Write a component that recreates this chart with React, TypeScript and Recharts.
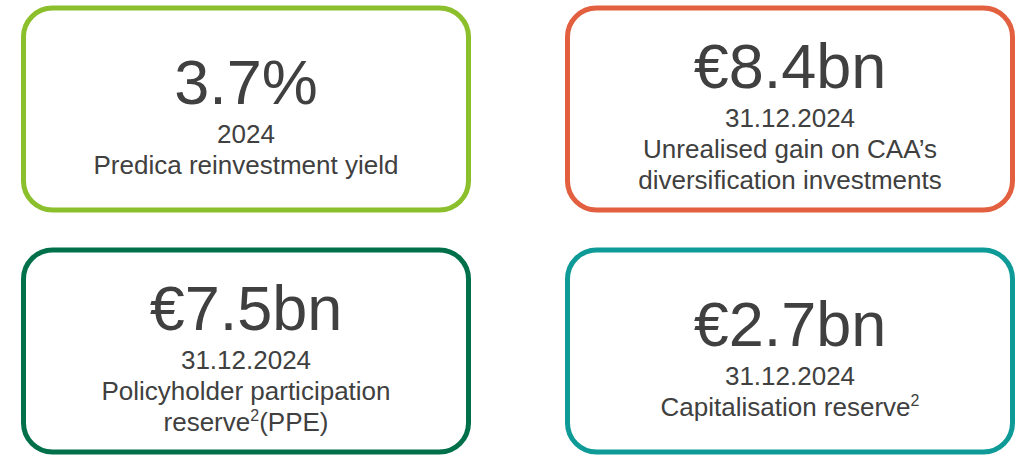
import React from 'react';
import { ScatterChart, Scatter, XAxis, YAxis } from 'recharts';

// Key figures, one entry per card (reading order: left→right, top→bottom)
const cardValues = ['3.7%', '€8.4bn', '€7.5bn', '€2.7bn'];
const cardDates = ['2024', '31.12.2024', '31.12.2024', '31.12.2024'];
const cardLabels = [
  ['Predica reinvestment yield'],
  ['Unrealised gain on CAA’s', 'diversification investments'],
  ['Policyholder participation', 'reserve²(PPE)'],
  ['Capitalisation reserve²'],
];
const cardColumns = [0, 1, 0, 1];
const cardRows = [0, 0, 1, 1];
const cardColors = ['#8cbf2c', '#e2603f', '#00704b', '#0e9a97'];

const TEXT = '#404040';
const FONT = '"Liberation Sans", Arial, sans-serif';
const SMALL = 26;

// split a line on the footnote mark so it can be drawn as a superscript
const renderLine = (line: string) => {
  const parts = line.split('²');
  const out: React.ReactNode[] = [];
  parts.forEach((p, i) => {
    if (i > 0) {
      out.push(
        <tspan key={`s${i}`} fontSize={16} dy={-10}>
          2
        </tspan>
      );
      out.push(
        <tspan key={`t${i}`} fontSize={SMALL} dy={10}>
          {p}
        </tspan>
      );
    } else {
      out.push(<tspan key={`t${i}`}>{p}</tspan>);
    }
  });
  return out;
};

const CardShape = (props: any) => {
  const { cx, cy, payload } = props;
  const w = 445;
  const h = 202;
  const n = payload.lines.length + 1;
  const base = cy - 5.5 - (n - 2) * 16;
  return (
    <g>
      <rect
        x={cx - w / 2}
        y={cy - h / 2}
        width={w}
        height={h}
        rx={29}
        ry={29}
        fill="#ffffff"
        stroke={payload.color}
        strokeWidth={5}
      />
      <text x={cx} y={base} textAnchor="middle" fontSize={63} fill={TEXT} fontFamily={FONT}>
        {payload.value}
      </text>
      <text x={cx} y={base + 39} textAnchor="middle" fontSize={SMALL} fill={TEXT} fontFamily={FONT}>
        {payload.date}
      </text>
      {payload.lines.map((l: string, i: number) => (
        <text
          key={i}
          x={cx}
          y={base + 39 + (i + 1) * 31}
          textAnchor="middle"
          fontSize={SMALL}
          fill={TEXT}
          fontFamily={FONT}
        >
          {renderLine(l)}
        </text>
      ))}
    </g>
  );
};

export default function App() {
  const data = cardValues.map((v, i) => ({
    col: cardColumns[i],
    row: cardRows[i],
    value: v,
    date: cardDates[i],
    lines: cardLabels[i],
    color: cardColors[i],
  }));

  return (
    <div style={{ position: 'absolute', left: 0, top: 0, width: 1023, height: 458, background: '#fff' }}>
      <ScatterChart
        width={1023}
        height={458}
        margin={{ top: 109, right: 233, bottom: 107, left: 246 }}
      >
        <XAxis type="number" dataKey="col" domain={[0, 1]} hide />
        <YAxis type="number" dataKey="row" domain={[0, 1]} reversed hide />
        <Scatter data={data} shape={CardShape} isAnimationActive={false} />
      </ScatterChart>
    </div>
  );
}
